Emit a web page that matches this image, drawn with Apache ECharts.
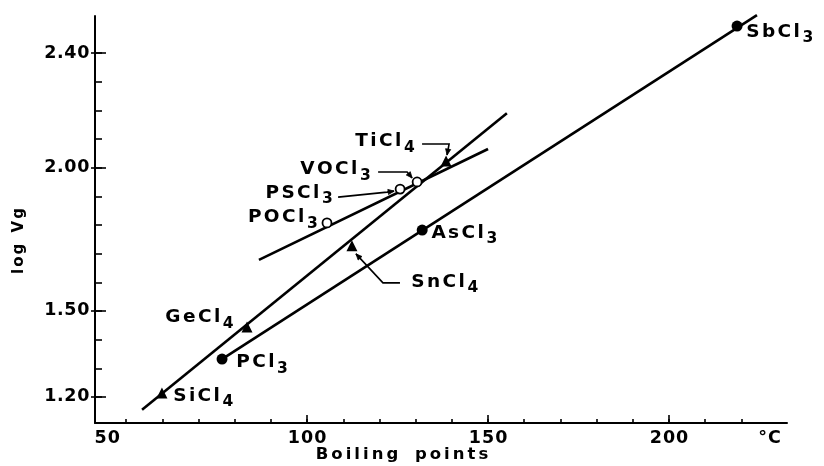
<!DOCTYPE html>
<html>
<head>
<meta charset="utf-8">
<script src="https://cdn.jsdelivr.net/npm/echarts@6/dist/echarts.min.js"></script>
<style>
  html, body { margin: 0; padding: 0; background: #fff; }
  #chart { width: 824px; height: 466px; }
</style>
</head>
<body>
<div id="chart"></div>
<script>
// log Vg against boiling point for volatile chlorides, grouped by family

// trichlorides (filled circles)
const triNames = ['PCl3', 'AsCl3', 'SbCl3'];
const triBp = [76.5, 131.8, 218.8];
const triLogVg = [1.332, 1.782, 2.494];

// tetrachlorides (triangles)
const tetraNames = ['SiCl4', 'GeCl4', 'SnCl4', 'TiCl4'];
const tetraBp = [59.9, 83.4, 112.4, 138.4];
const tetraLogVg = [1.214, 1.444, 1.727, 2.023];

// oxy- and thio-chlorides (open circles)
const oxyNames = ['POCl3', 'PSCl3', 'VOCl3'];
const oxyBp = [105.5, 125.7, 130.4];
const oxyLogVg = [1.807, 1.925, 1.950];

// end points of the straight lines drawn through each family
const triFit = [[76.5, 1.332], [224.3, 2.532]];
const tetraFit = [[54.4, 1.155], [155.2, 2.19]];
const oxyFit = [[86.7, 1.678], [150.0, 2.065]];

// axis ticks and labels
const xMinorTicks = [50, 60, 70, 80, 90, 100, 110, 120, 130, 140, 150, 160, 170, 180, 190, 200, 210, 220];
const xMajorTicks = [100, 150, 200];
const xTickLabels = [50, 100, 150, 200];
const xUnitAt = 227.8;
const yMinorTicks = [1.2, 1.3, 1.4, 1.5, 1.6, 1.7, 1.8, 1.9, 2.0, 2.1, 2.2, 2.3, 2.4];
const yTickLabels = [1.2, 1.5, 2.0, 2.4];

const X_MIN = 41.4, X_MAX = 232.6;
const Y_MIN = 1.109, Y_MAX = 2.529;

const FONT = 'DejaVu Sans';
const INK = '#000';

// label placement around each marker: side of the marker, pixel offset of the text edge and its middle
const labelPlace = {
  PCl3:  { side: 'right', dx: 13,  dy: 3.5 },
  AsCl3: { side: 'right', dx: 8,   dy: 3 },
  SbCl3: { side: 'right', dx: 8,   dy: 6 },
  SiCl4: { side: 'right', dx: 10,  dy: 3.5 },
  GeCl4: { side: 'left',  dx: -12, dy: -9.5 },
  SnCl4: { side: 'right', dx: 58,  dy: 36.5 },
  TiCl4: { side: 'left',  dx: -30, dy: -19.5 },
  POCl3: { side: 'left',  dx: -7,  dy: -4.5 },
  PSCl3: { side: 'left',  dx: -65, dy: 4.5 },
  VOCl3: { side: 'left',  dx: -44, dy: -11.5 }
};

// leader arrows, as pixel offsets from the marker they point at
const arrowPaths = {
  TiCl4: [[-24, -17], [3, -17], [1, -6]],
  VOCl3: [[-39, -10], [-10, -10], [-5, -4]],
  PSCl3: [[-62, 8], [-13, 3], [-6, 2]],
  SnCl4: [[48, 37], [31, 37], [4, 8]]
};

// letter-spaced rich text pieces
function piece(size, pad, lineHeight) {
  return { fontFamily: FONT, fontWeight: 'bold', fontSize: size, color: INK, padding: pad, lineHeight: lineHeight };
}
const richStyles = {
  m: piece(18.5, [0, 1.2, 0, 1.2], 22),
  s: piece(15.5, [12, 1.4, 0, 1.4], 18),
  n: piece(17.5, [0, 0.5, 0, 0.5], 22),
  p: piece(17.5, [0, 0, 0, 0], 22),
  e: piece(17.5, [0, 38.5, 0, 0.5], 22),
  t: piece(16.5, [0, 1.5, 0, 1.5], 22),
  w: piece(16.5, [0, 4, 0, 4], 22),
  a: piece(15, [0, 1, 0, 1], 20),
  aw: piece(15, [0, 2, 0, 2], 20)
};

function formula(name) {
  return name.split('').map(c => (/\d/.test(c) ? '{s|' + c + '}' : '{m|' + c + '}')).join('');
}
function spaced(str, key, spaceKey) {
  return str.split('').map(c => (c === ' ' ? '{' + spaceKey + '| }' : '{' + key + '|' + c + '}')).join('');
}
function numberText(str) {
  return str.split('').map(c => (c === '.' ? '{p|.}' : '{n|' + c + '}')).join('');
}

function pointData(names, xs, ys, size) {
  return names.map((name, i) => {
    const lp = labelPlace[name];
    return {
      name: name,
      value: [xs[i], ys[i]],
      label: {
        show: true,
        position: [size / 2, size / 2],
        align: lp.side === 'right' ? 'left' : 'right',
        verticalAlign: 'middle',
        offset: [lp.dx, lp.dy],
        formatter: formula(name),
        rich: richStyles
      }
    };
  });
}

const lineStyle = { color: INK, width: 2.6 };
const tickStyle = { color: INK, width: 1.6 };

const chart = echarts.init(document.getElementById('chart'), null, { renderer: 'canvas' });

const option = {
  animation: false,
  backgroundColor: '#fff',
  grid: { left: 95, right: 37, top: 16, bottom: 43, containLabel: false },
  xAxis: [
    {
      type: 'value', min: X_MIN, max: X_MAX, position: 'bottom',
      axisLine: { show: true, onZero: false, lineStyle: { color: INK, width: 2 } },
      axisTick: { show: true, inside: true, length: 4, lineStyle: tickStyle, customValues: xMinorTicks },
      axisLabel: { show: false },
      splitLine: { show: false }
    },
    {
      type: 'value', min: X_MIN, max: X_MAX, position: 'bottom',
      axisLine: { show: false, onZero: false },
      axisTick: { show: true, inside: true, length: 8, lineStyle: tickStyle, customValues: xMajorTicks },
      axisLabel: {
        show: true, margin: 4,
        customValues: xTickLabels.concat([xUnitAt]),
        formatter: function (v) {
          if (v === xUnitAt) return '{n|°}{n|C}';
          if (v === 50) return '{n|5}{e|0}';
          return numberText(String(v));
        },
        rich: richStyles
      },
      splitLine: { show: false }
    }
  ],
  yAxis: [
    {
      type: 'value', min: Y_MIN, max: Y_MAX, position: 'left',
      axisLine: { show: true, onZero: false, lineStyle: { color: INK, width: 2 } },
      axisTick: { show: true, inside: true, length: 7, lineStyle: tickStyle, customValues: yMinorTicks },
      axisLabel: { show: false },
      splitLine: { show: false }
    },
    {
      type: 'value', min: Y_MIN, max: Y_MAX, position: 'left',
      axisLine: { show: false, onZero: false },
      axisTick: { show: true, inside: true, length: 11, lineStyle: tickStyle, customValues: yTickLabels },
      axisLabel: {
        show: true, margin: 5,
        customValues: yTickLabels,
        formatter: function (v) { return numberText(v.toFixed(2)); },
        rich: richStyles
      },
      splitLine: { show: false }
    },
    {
      type: 'value', min: Y_MIN, max: Y_MAX, position: 'left',
      axisLine: { show: false, onZero: false },
      axisTick: { show: true, inside: false, length: 4, lineStyle: tickStyle, customValues: yTickLabels },
      axisLabel: { show: false },
      splitLine: { show: false }
    }
  ],
  graphic: [
    {
      id: 'xTitle', type: 'text', x: 402, y: 455,
      style: { text: spaced('Boiling points', 't', 'w'), rich: richStyles, align: 'center', verticalAlign: 'middle' }
    },
    {
      id: 'yTitle', type: 'text', x: 19, y: 241, rotation: Math.PI / 2,
      style: { text: spaced('log Vg', 'a', 'aw'), rich: richStyles, align: 'center', verticalAlign: 'middle' }
    }
  ],
  series: [
    { type: 'line', data: triFit, symbol: 'none', lineStyle: lineStyle, clip: false, silent: true, z: 2 },
    { type: 'line', data: tetraFit, symbol: 'none', lineStyle: lineStyle, clip: false, silent: true, z: 2 },
    { type: 'line', data: oxyFit, symbol: 'none', lineStyle: lineStyle, clip: false, silent: true, z: 2 },
    {
      name: 'trichlorides', type: 'scatter', symbol: 'circle', symbolSize: 11, z: 5,
      itemStyle: { color: INK, opacity: 1 },
      data: pointData(triNames, triBp, triLogVg, 11)
    },
    {
      name: 'tetrachlorides', type: 'scatter', symbol: 'triangle', symbolSize: 11, z: 5,
      itemStyle: { color: INK, opacity: 1 },
      data: pointData(tetraNames, tetraBp, tetraLogVg, 11)
    },
    {
      name: 'oxychlorides', type: 'scatter', symbol: 'circle', symbolSize: 9, z: 5,
      itemStyle: { color: '#fff', borderColor: INK, borderWidth: 1.8, opacity: 1 },
      data: pointData(oxyNames, oxyBp, oxyLogVg, 9)
    }
  ]
};

chart.setOption(option);

// leader arrows from a label to its marker
function markerPixel(name) {
  const groups = [[triNames, triBp, triLogVg], [tetraNames, tetraBp, tetraLogVg], [oxyNames, oxyBp, oxyLogVg]];
  for (const [names, xs, ys] of groups) {
    const i = names.indexOf(name);
    if (i >= 0) return chart.convertToPixel({ xAxisIndex: 0, yAxisIndex: 0 }, [xs[i], ys[i]]);
  }
  return null;
}

const arrowGraphics = [];
Object.keys(arrowPaths).forEach(function (name) {
  const c = markerPixel(name);
  const pts = arrowPaths[name].map(o => [c[0] + o[0], c[1] + o[1]]);
  arrowGraphics.push({
    id: 'lead-' + name, type: 'polyline', z: 6, silent: true,
    shape: { points: pts },
    style: { stroke: INK, lineWidth: 1.6, fill: null }
  });
  const tip = pts[pts.length - 1];
  const prev = pts[pts.length - 2];
  const len = Math.hypot(tip[0] - prev[0], tip[1] - prev[1]);
  const ux = (tip[0] - prev[0]) / len, uy = (tip[1] - prev[1]) / len;
  const headLen = 6, half = 2.6;
  const bx = tip[0] - ux * headLen, by = tip[1] - uy * headLen;
  arrowGraphics.push({
    id: 'head-' + name, type: 'polygon', z: 6, silent: true,
    shape: { points: [tip, [bx - uy * half, by + ux * half], [bx + uy * half, by - ux * half]] },
    style: { fill: INK, stroke: INK, lineWidth: 0.8 }
  });
});
chart.setOption({ graphic: arrowGraphics });
</script>
</body>
</html>
